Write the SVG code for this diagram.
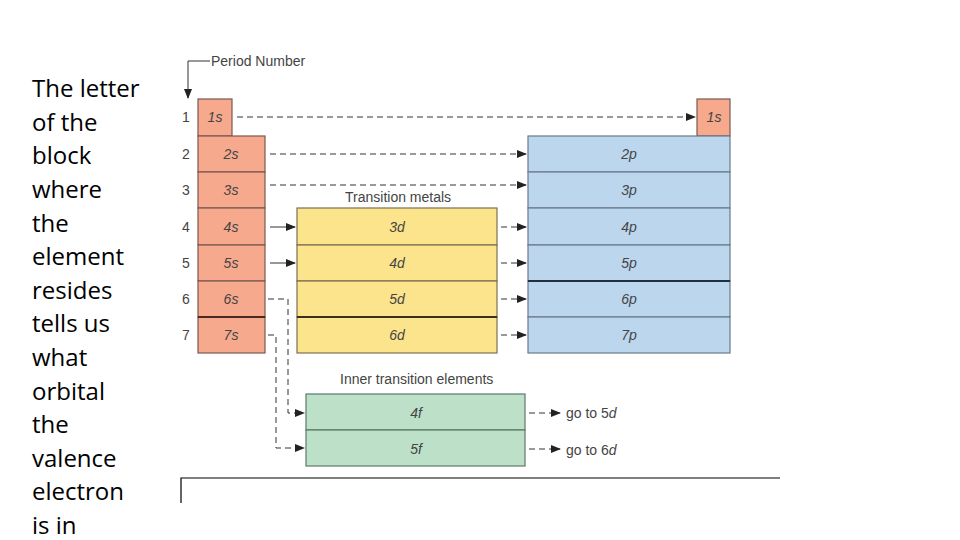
<svg xmlns="http://www.w3.org/2000/svg" width="960" height="540" viewBox="0 0 960 540">
<style>
.t{font-family:"Liberation Sans",Arial,sans-serif;font-size:14px;fill:#444}
.c{text-anchor:middle;font-style:italic}
.s{fill:#f6a98c;stroke:#7a5a50;stroke-width:1.2}
.d{fill:#fce48c;stroke:#7a7050;stroke-width:1.2}
.p{fill:#bcd6ee;stroke:#6a7a8a;stroke-width:1.2}
.f{fill:#bde0c8;stroke:#5a7a68;stroke-width:1.2}
.side{font-family:"Open Sans",Calibri,sans-serif;font-size:24px;fill:#000}
.dash{fill:none;stroke:#333;stroke-width:1;stroke-dasharray:6,4}
.sol{fill:none;stroke:#333;stroke-width:1}
</style>
<defs><marker id="a" markerWidth="10" markerHeight="8" refX="9" refY="4" orient="auto" markerUnits="userSpaceOnUse"><path d="M0,0 L10,4 L0,8 z" fill="#222"/></marker></defs>
<rect width="960" height="540" fill="#fff"/>
<g id="sidetext" class="side">
<text x="32" y="97">The letter</text><text x="32" y="131">of the</text><text x="32" y="164">block</text><text x="32" y="198">where</text><text x="32" y="232">the</text><text x="32" y="265">element</text><text x="32" y="299">resides</text><text x="32" y="332">tells us</text><text x="32" y="366">what</text><text x="32" y="400">orbital</text><text x="32" y="433">the</text><text x="32" y="467">valence</text><text x="32" y="500">electron</text><text x="32" y="534">is in</text>
</g>
<g id="periodlabel">
<path class="sol" d="M210,61 H188 V98" marker-end="url(#a)"/>
<text class="t" x="211" y="66">Period Number</text>
<g class="t" text-anchor="middle"><text x="186" y="122">1</text><text x="186" y="159">2</text><text x="186" y="195">3</text><text x="186" y="232">4</text><text x="186" y="268">5</text><text x="186" y="304">6</text><text x="186" y="340">7</text></g>
</g>
<g id="sblock">
<rect class="s" x="198" y="99" width="34" height="37"/>
<rect class="s" x="198" y="136" width="67" height="36"/><rect class="s" x="198" y="172" width="67" height="36"/><rect class="s" x="198" y="208" width="67" height="37"/><rect class="s" x="198" y="245" width="67" height="36"/><rect class="s" x="198" y="281" width="67" height="36"/><rect class="s" x="198" y="317" width="67" height="36"/>
<line x1="198" y1="317" x2="265" y2="317" stroke="#4a2a20" stroke-width="2"/>
<g class="t c"><text x="215" y="122">1s</text><text x="231" y="159">2s</text><text x="231" y="195">3s</text><text x="231" y="232">4s</text><text x="231" y="268">5s</text><text x="231" y="304">6s</text><text x="231" y="340">7s</text></g>
<rect class="s" x="697" y="99" width="33" height="37"/><text class="t c" x="714" y="122">1s</text>
</g>
<g id="dblock">
<text class="t" x="345" y="202">Transition metals</text>
<rect class="d" x="297" y="208" width="200" height="37"/><rect class="d" x="297" y="245" width="200" height="36"/><rect class="d" x="297" y="281" width="200" height="36"/><rect class="d" x="297" y="317" width="200" height="36"/>
<line x1="297" y1="317" x2="497" y2="317" stroke="#3a3020" stroke-width="2"/>
<g class="t c"><text x="397" y="232">3d</text><text x="397" y="268">4d</text><text x="397" y="304">5d</text><text x="397" y="340">6d</text></g>
</g>
<g id="pblock">
<rect class="p" x="528" y="136" width="202" height="36"/><rect class="p" x="528" y="172" width="202" height="36"/><rect class="p" x="528" y="208" width="202" height="37"/><rect class="p" x="528" y="245" width="202" height="36"/><rect class="p" x="528" y="281" width="202" height="36"/><rect class="p" x="528" y="317" width="202" height="36"/>
<line x1="528" y1="281" x2="730" y2="281" stroke="#203040" stroke-width="2"/>
<g class="t c"><text x="629" y="159">2p</text><text x="629" y="195">3p</text><text x="629" y="232">4p</text><text x="629" y="268">5p</text><text x="629" y="304">6p</text><text x="629" y="340">7p</text></g>
</g>
<g id="fblock">
<text class="t" x="340" y="384">Inner transition elements</text>
<rect class="f" x="306" y="394" width="219" height="36"/><rect class="f" x="306" y="430" width="219" height="36"/>
<g class="t c"><text x="416" y="418">4f</text><text x="416" y="454">5f</text></g>
<text class="t" x="566" y="418">go to 5<tspan font-style="italic">d</tspan></text>
<text class="t" x="566" y="455">go to 6<tspan font-style="italic">d</tspan></text>
</g>
<g id="connectors">
<path class="dash" d="M237,117 H695" marker-end="url(#a)"/>
<path class="dash" d="M270,154 H526" marker-end="url(#a)"/>
<path class="dash" d="M270,185 H526" marker-end="url(#a)"/>
<path class="sol" d="M270,227 H295" marker-end="url(#a)"/>
<path class="sol" d="M270,263 H295" marker-end="url(#a)"/>
<path class="dash" d="M501,227 H526" marker-end="url(#a)"/>
<path class="dash" d="M501,263 H526" marker-end="url(#a)"/>
<path class="dash" d="M501,299 H526" marker-end="url(#a)"/>
<path class="dash" d="M501,335 H526" marker-end="url(#a)"/>
<path class="dash" d="M268,299 H288 V413 H304" marker-end="url(#a)"/>
<path class="dash" d="M268,335 H276 V448 H304" marker-end="url(#a)"/>
<path class="dash" d="M529,413 H560" marker-end="url(#a)"/>
<path class="dash" d="M529,449 H560" marker-end="url(#a)"/>
</g>
<path d="M181,503 V478 H780" fill="none" stroke="#000" stroke-width="1.2"/>
</svg>
